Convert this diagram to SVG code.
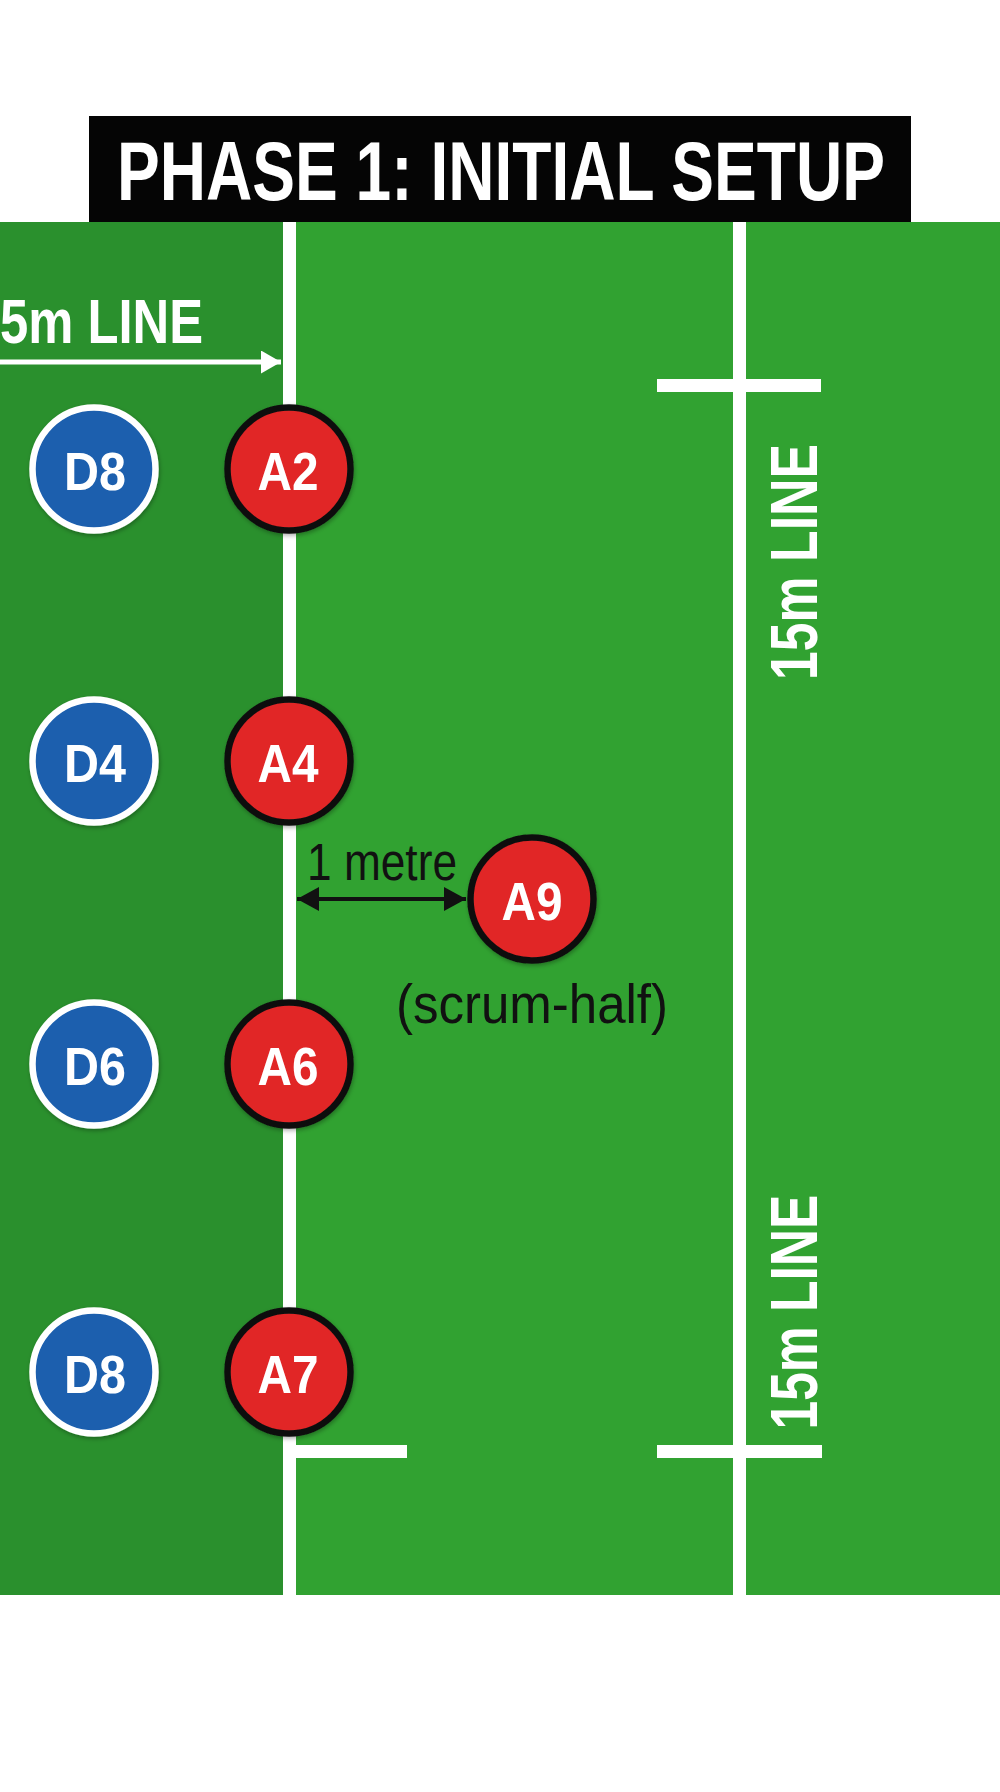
<svg xmlns="http://www.w3.org/2000/svg" width="1000" height="1792" viewBox="0 0 1000 1792">
  <style>
    .title { font-family: "Liberation Sans", Arial, sans-serif; font-weight: bold; fill: #ffffff; }
    .lbl { font-family: "Liberation Sans", Arial, sans-serif; font-weight: bold; fill: #ffffff; font-size: 53px; text-anchor: middle; }
    .note { font-family: "Liberation Sans", Arial, sans-serif; fill: #111111; }
    .def { fill: #1b5fae; stroke: #ffffff; stroke-width: 6.5; }
    .att { fill: #e12527; stroke: #111111; stroke-width: 6.5; }
    .fline { fill: #ffffff; }
  </style>
  <defs>
    <filter id="sh" x="-20%" y="-20%" width="140%" height="140%">
      <feDropShadow dx="1" dy="2" stdDeviation="2" flood-color="#000000" flood-opacity="0.3"/>
    </filter>
    <marker id="ahb" viewBox="0 0 22 24" refX="22" refY="12" markerWidth="22" markerHeight="24" markerUnits="userSpaceOnUse" orient="auto-start-reverse">
      <path d="M0,0 L22,12 L0,24 z" fill="#111111"/>
    </marker>
    <marker id="ahw" viewBox="0 0 20 23" refX="20" refY="11.5" markerWidth="20" markerHeight="23" markerUnits="userSpaceOnUse" orient="auto">
      <path d="M0,0 L20,11.5 L0,23 z" fill="#ffffff"/>
    </marker>
  </defs>

  <rect x="0" y="0" width="1000" height="1792" fill="#ffffff"/>

  <!-- field -->
  <rect x="0" y="222" width="289" height="1373" fill="#2a902d"/>
  <rect x="289" y="222" width="711" height="1373" fill="#31a231"/>

  <!-- field lines -->
  <rect class="fline" x="283" y="222" width="13" height="1373"/>
  <rect class="fline" x="733" y="222" width="13" height="1373"/>
  <rect class="fline" x="657" y="379" width="164" height="13"/>
  <rect class="fline" x="657" y="1445" width="165" height="13"/>
  <rect class="fline" x="289" y="1445" width="118" height="13"/>

  <!-- title -->
  <g id="title">
    <rect x="89" y="116" width="822" height="106" fill="#050505"/>
    <text class="title" x="501" y="200" font-size="84" text-anchor="middle" textLength="768" lengthAdjust="spacingAndGlyphs">PHASE 1: INITIAL SETUP</text>
  </g>

  <!-- field labels -->
  <text class="title" x="0" y="343" font-size="63" textLength="203" lengthAdjust="spacingAndGlyphs">5m LINE</text>
  <text class="title" transform="translate(817,562) rotate(-90)" x="0" y="0" font-size="66" text-anchor="middle" textLength="236" lengthAdjust="spacingAndGlyphs">15m LINE</text>
  <text class="title" transform="translate(817,1312) rotate(-90)" x="0" y="0" font-size="66" text-anchor="middle" textLength="235" lengthAdjust="spacingAndGlyphs">15m LINE</text>

  <!-- connectors -->
  <g id="connectors">
    <line x1="0" y1="362" x2="281" y2="362" stroke="#ffffff" stroke-width="5" marker-end="url(#ahw)"/>
    <line x1="297" y1="899" x2="466" y2="899" stroke="#111111" stroke-width="4" marker-start="url(#ahb)" marker-end="url(#ahb)"/>
    <text class="note" x="307" y="880" font-size="51" textLength="150" lengthAdjust="spacingAndGlyphs">1 metre</text>
  </g>

  <!-- defenders -->
  <g id="D8a" filter="url(#sh)">
    <circle class="def" cx="94" cy="469" r="61.5"/>
    <text class="lbl" x="95" y="490" textLength="62" lengthAdjust="spacingAndGlyphs">D8</text>
  </g>
  <g id="D4" filter="url(#sh)">
    <circle class="def" cx="94" cy="761" r="61.5"/>
    <text class="lbl" x="95" y="782" textLength="62" lengthAdjust="spacingAndGlyphs">D4</text>
  </g>
  <g id="D6" filter="url(#sh)">
    <circle class="def" cx="94" cy="1064" r="61.5"/>
    <text class="lbl" x="95" y="1085" textLength="62" lengthAdjust="spacingAndGlyphs">D6</text>
  </g>
  <g id="D8b" filter="url(#sh)">
    <circle class="def" cx="94" cy="1372" r="61.5"/>
    <text class="lbl" x="95" y="1393" textLength="62" lengthAdjust="spacingAndGlyphs">D8</text>
  </g>

  <!-- attackers -->
  <g id="A2" filter="url(#sh)">
    <circle class="att" cx="289" cy="469" r="61.5"/>
    <text class="lbl" x="288" y="490" textLength="61" lengthAdjust="spacingAndGlyphs">A2</text>
  </g>
  <g id="A4" filter="url(#sh)">
    <circle class="att" cx="289" cy="761" r="61.5"/>
    <text class="lbl" x="288" y="782" textLength="61" lengthAdjust="spacingAndGlyphs">A4</text>
  </g>
  <g id="A6" filter="url(#sh)">
    <circle class="att" cx="289" cy="1064" r="61.5"/>
    <text class="lbl" x="288" y="1085" textLength="61" lengthAdjust="spacingAndGlyphs">A6</text>
  </g>
  <g id="A7" filter="url(#sh)">
    <circle class="att" cx="289" cy="1372" r="61.5"/>
    <text class="lbl" x="288" y="1393" textLength="61" lengthAdjust="spacingAndGlyphs">A7</text>
  </g>
  <g id="A9" filter="url(#sh)">
    <circle class="att" cx="532" cy="899" r="61.5"/>
    <text class="lbl" x="532" y="920" textLength="61" lengthAdjust="spacingAndGlyphs">A9</text>
  </g>
  <text class="note" x="396" y="1023" font-size="56" textLength="272" lengthAdjust="spacingAndGlyphs">(scrum-half)</text>
</svg>
